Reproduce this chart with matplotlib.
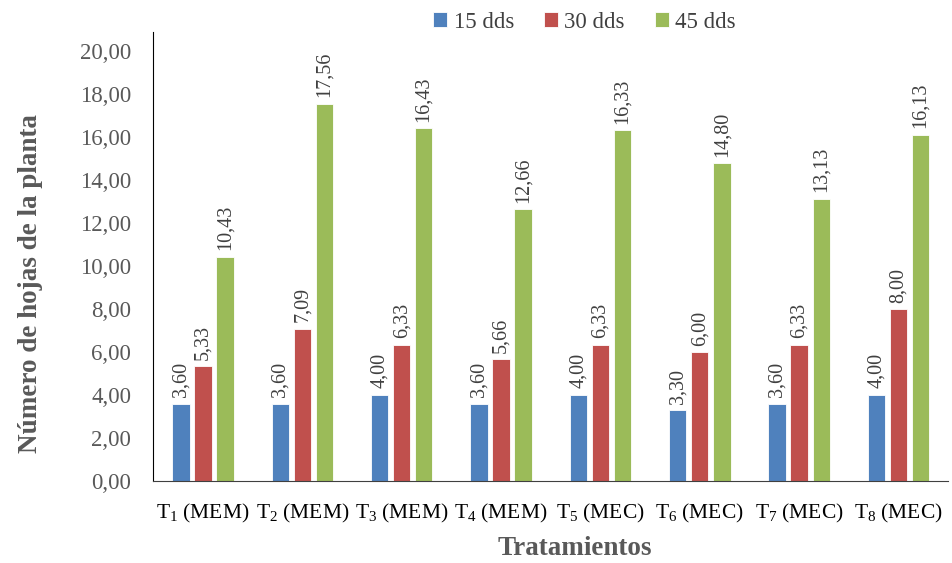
import matplotlib.pyplot as plt
import numpy as np

plt.rcParams['font.family'] = ['Liberation Serif', 'DejaVu Serif']
plt.rcParams['mathtext.fontset'] = 'custom'
plt.rcParams['mathtext.rm'] = 'Liberation Serif'
plt.rcParams['mathtext.it'] = 'Liberation Serif:italic'

categories = ['T$_1$ (MEM)', 'T$_2$ (MEM)', 'T$_3$ (MEM)', 'T$_4$ (MEM)',
              'T$_5$ (MEC)', 'T$_6$ (MEC)', 'T$_7$ (MEC)', 'T$_8$ (MEC)']
series_names = ['15 dds', '30 dds', '45 dds']
dds15 = [3.60, 3.60, 4.00, 3.60, 4.00, 3.30, 3.60, 4.00]
dds30 = [5.33, 7.09, 6.33, 5.66, 6.33, 6.00, 6.33, 8.00]
dds45 = [10.43, 17.56, 16.43, 12.66, 16.33, 14.80, 13.13, 16.13]
colors = ['#4F81BD', '#C0504D', '#9BBB59']

fig = plt.figure(figsize=(9.52, 5.63), dpi=100)
ax = fig.add_axes([0.161, 0.146, 0.835, 0.797])

x = np.arange(len(categories))
w = 0.175
step = 0.222
for i, (vals, name, c) in enumerate(zip([dds15, dds30, dds45], series_names, colors)):
    pos = x + (i - 1) * step
    ax.bar(pos, vals, width=w, color=c, edgecolor='white', linewidth=0.6, label=name)
    for p, v in zip(pos, vals):
        ax.text(p, v + 0.3, f'{v:.2f}'.replace('.', ','), rotation=90,
                ha='center', va='bottom', fontsize=14.5, color='#404040')

ax.set_xlim(-0.5, 7.5)
ax.set_ylim(0, 20.9)
ax.set_yticks(np.arange(0, 21, 2))
ax.set_yticklabels([f'{t:.2f}'.replace('.', ',') for t in np.arange(0, 21, 2)],
                   fontsize=16.5, color='#595959')
ax.set_xticks(x)
ax.set_xticklabels(categories, fontsize=15.5, color='black')
ax.tick_params(axis='x', length=0, pad=15)
ax.tick_params(axis='y', length=0, pad=16)

for s in ['top', 'right']:
    ax.spines[s].set_visible(False)
ax.spines['left'].set_color('black')
ax.spines['bottom'].set_color('#404040')

ax.set_ylabel('Número de hojas de la planta', fontsize=19.5, fontweight='bold',
              color='#595959', va='center')
ax.yaxis.set_label_coords(-0.155, 0.439)
ax.set_xlabel('Tratamientos', fontsize=19.5, fontweight='bold', color='#595959',
              va='center')
ax.xaxis.set_label_coords(0.53, -0.151)

fig.legend(loc='upper center', bbox_to_anchor=(0.614, 1.016), ncol=3, frameon=False,
           fontsize=16.5, handlelength=0.6, handleheight=0.6, handletextpad=0.3,
           columnspacing=1.3, labelcolor='#404040')

fig.savefig('out.png', dpi=100)
